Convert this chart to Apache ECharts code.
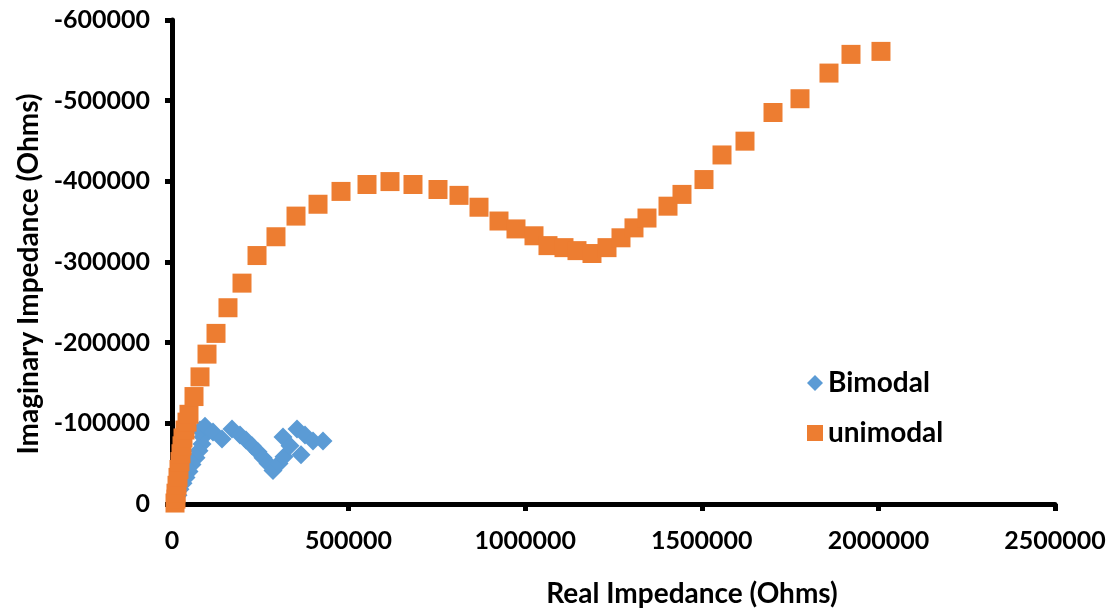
<!DOCTYPE html>
<html>
<head>
<meta charset="utf-8">
<script src="https://cdn.jsdelivr.net/npm/echarts@6/dist/echarts.min.js"></script>
<style>
html,body{margin:0;padding:0;background:#fff;}
#chart{width:1116px;height:613px;}
</style>
</head>
<body>
<div id="chart"></div>
<script>
// Bimodal series: [real, imaginary]
const bimodalReal = [11300, 17000, 22600, 31100, 39600, 48100, 56600, 67900, 76400, 84900, 87800, 79300, 93400, 116100, 141600, 169900, 192500, 209500, 226500, 243500, 257600, 271800, 285900, 302900, 317100, 314200, 334100, 353900, 365200, 376500, 399200, 427500];
const bimodalImag = [-3700, -11000, -18300, -25700, -33000, -40300, -48900, -57400, -66000, -74500, -83100, -91700, -96500, -89200, -80700, -92900, -85500, -79400, -72100, -64800, -57400, -50100, -41500, -50100, -58700, -83100, -72100, -92900, -61100, -85500, -78200, -78200];

// Unimodal series: [real, imaginary]
const unimodalReal = [8500, 11300, 11300, 14200, 17000, 19800, 22600, 25500, 28300, 31100, 36800, 42500, 48100, 62300, 79300, 99100, 124600, 158500, 198200, 240700, 294400, 351100, 413400, 478500, 552100, 617200, 682300, 753100, 812600, 869200, 925800, 973900, 1024900, 1064500, 1109800, 1146600, 1189100, 1231600, 1271200, 1308000, 1344800, 1404300, 1443900, 1506200, 1557200, 1622300, 1701600, 1778000, 1860100, 1922400, 2007300];
const unimodalImag = [-1200, -6100, -13400, -23200, -33000, -42800, -52600, -62300, -72100, -81900, -91700, -101500, -111200, -133200, -157600, -185800, -211500, -243300, -273800, -308000, -331300, -356900, -371600, -387500, -396100, -399700, -396100, -389900, -382600, -367900, -350800, -341000, -332500, -320300, -317800, -314100, -310500, -317800, -330000, -342300, -354500, -369200, -383800, -402200, -432700, -449800, -485300, -502400, -534200, -557400, -561100];

const seriesNames = ['Bimodal', 'unimodal'];
const xTitle = 'Real Impedance (Ohms)';
const yTitle = 'Imaginary Impedance (Ohms)';

const zip = (a, b) => a.map((v, i) => [v, b[i]]);
const FONT = 'Lato';
const plain = v => String(v);

const chart = echarts.init(document.getElementById('chart'), null, {renderer: 'canvas'});
chart.setOption({
  animation: false,
  backgroundColor: '#ffffff',
  grid: {left: 172, right: 61, top: 20, bottom: 102, containLabel: false},
  legend: {
    orient: 'vertical',
    left: 802,
    top: 364,
    itemGap: 22,
    itemWidth: 16,
    itemHeight: 16,
    textStyle: {fontFamily: FONT, fontWeight: 'bold', fontSize: 28, color: '#000'},
    data: [
      {name: seriesNames[0], icon: 'diamond'},
      {name: seriesNames[1], icon: 'rect'}
    ]
  },
  xAxis: {
    type: 'value',
    min: 0, max: 2500000, interval: 500000,
    name: xTitle,
    nameLocation: 'middle',
    nameGap: 76,
    nameTextStyle: {fontFamily: FONT, fontWeight: 'bold', fontSize: 28, color: '#000', padding: [0, 0, 0, 157]},
    axisLine: {onZero: false, lineStyle: {color: '#000', width: 5}},
    axisTick: {show: true, length: 7, lineStyle: {color: '#000', width: 5}},
    axisLabel: {margin: 24, fontFamily: FONT, fontWeight: 'bold', fontSize: 25, color: '#000', formatter: plain},
    splitLine: {show: false}
  },
  yAxis: {
    type: 'value',
    inverse: true,
    min: -600000, max: 0, interval: 100000,
    name: yTitle,
    nameLocation: 'middle',
    nameGap: 128,
    nameTextStyle: {fontFamily: FONT, fontWeight: 'bold', fontSize: 28, color: '#000', padding: [0, 24, 0, 0]},
    axisLine: {onZero: false, lineStyle: {color: '#000', width: 5}},
    axisTick: {show: true, length: 7, lineStyle: {color: '#000', width: 5}},
    axisLabel: {margin: 22, fontFamily: FONT, fontWeight: 'bold', fontSize: 25, color: '#000', formatter: plain},
    splitLine: {show: false}
  },
  series: [
    {
      name: seriesNames[0],
      type: 'scatter',
      symbol: 'diamond',
      symbolSize: 19,
      itemStyle: {color: '#5B9BD5', opacity: 1},
      data: zip(bimodalReal, bimodalImag)
    },
    {
      name: seriesNames[1],
      type: 'scatter',
      symbol: 'rect',
      symbolSize: 19,
      itemStyle: {color: '#ED7D31', opacity: 1},
      data: zip(unimodalReal, unimodalImag)
    }
  ]
});
</script>
</body>
</html>
